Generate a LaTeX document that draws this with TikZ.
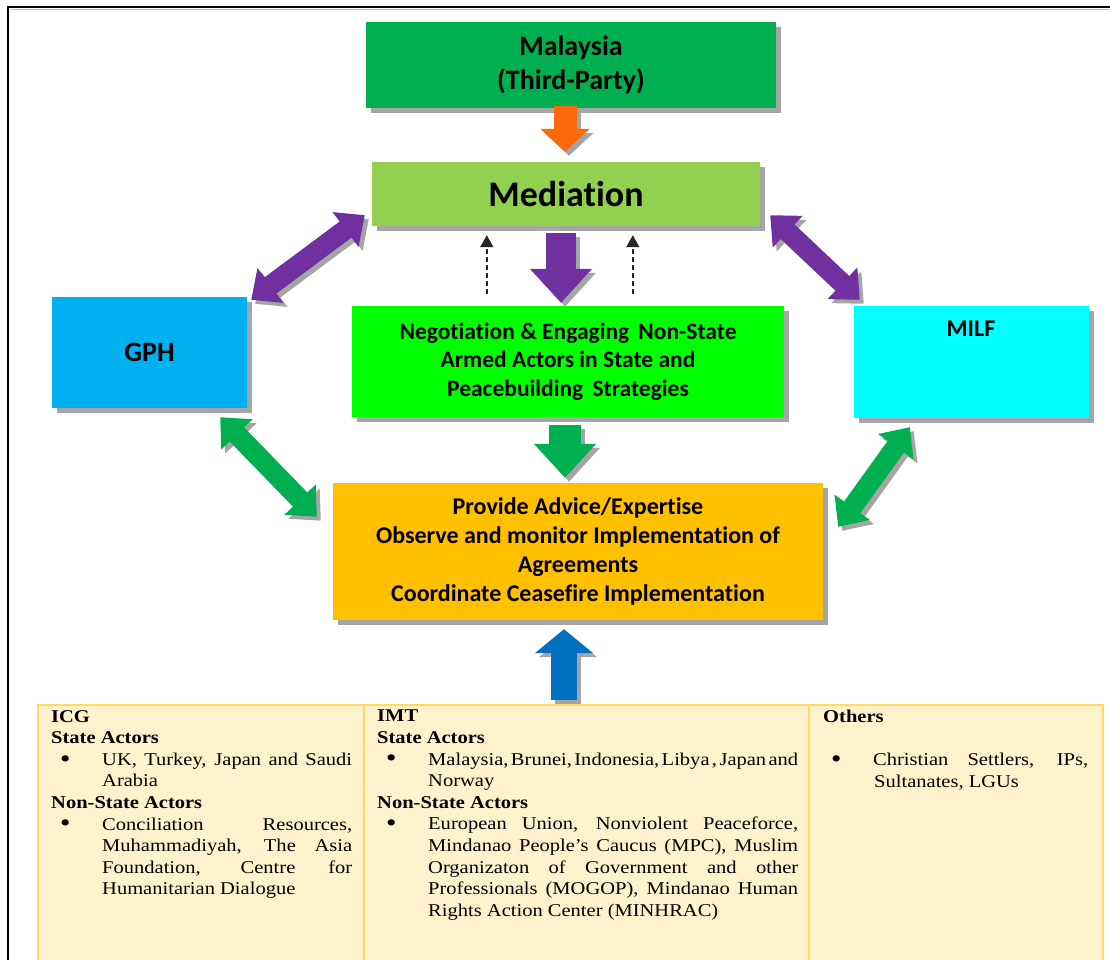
\documentclass[tikz,border=0pt]{standalone}
\usepackage{graphicx}
\usepackage{fontspec}
\setmainfont{Liberation Serif}
\newfontfamily\boxfont[Ligatures=NoCommon]{Carlito}
\newfontfamily\tabfont[FakeStretch=1.14]{Liberation Serif}
\usetikzlibrary{arrows.meta,calc,shadows}
\definecolor{malC}{RGB}{0,176,80}
\definecolor{medC}{RGB}{146,208,80}
\definecolor{negC}{RGB}{0,255,0}
\definecolor{gphC}{RGB}{0,176,240}
\definecolor{milfC}{RGB}{0,255,255}
\definecolor{provC}{RGB}{255,192,0}
\definecolor{orangeA}{RGB}{250,105,10}
\definecolor{purpleA}{RGB}{112,48,160}
\definecolor{greenA}{RGB}{0,176,80}
\definecolor{blueA}{RGB}{0,112,192}
\definecolor{tabF}{RGB}{255,242,204}
\definecolor{tabB}{RGB}{255,217,102}
\definecolor{shadowgray}{RGB}{165,165,165}
\newcommand{\bul}{\hspace*{9pt}\makebox[42pt][l]{\smash{\raisebox{-1.8pt}{\scalebox{1.45}{\textbullet}}}}}
\newcommand{\ind}{\hspace*{51pt}}
\begin{document}
\begin{tikzpicture}[x=1pt,y=-1pt,
  box/.style={inner sep=0pt, align=center, text=black,
    drop shadow={shadow xshift=5pt,shadow yshift=-5pt,fill=shadowgray,opacity=1}},
  shad/.style={draw=shadowgray, transform canvas={xshift=4pt,yshift=-4pt}},
  orangearr/.style={line width=23pt,-{Triangle[length=23pt,width=48pt]}},
  vertarr/.style={line width=30pt,-{Triangle[length=34pt,width=60pt]}},
  bluearr/.style={line width=26pt,-{Triangle[length=24pt,width=57pt]}},
  diagarr/.style={line width=20pt,{Triangle[length=24pt,width=42pt]}-{Triangle[length=24pt,width=42pt]}},
  dasharr/.style={draw={black!85}, line width=1.8pt, dash pattern=on 5pt off 3pt, -{Triangle[length=12pt,width=13pt]}},
  cell/.style={draw=tabB, line width=1.5pt, fill=tabF, inner sep=0pt, anchor=north west},
  tabtext/.style={anchor=north west, inner sep=0pt, align=left, font=\tabfont\fontsize{18}{21.6}\selectfont}
]
\useasboundingbox (0,0) rectangle (1110,960);
% outer frame
\draw[shadowgray!70, line width=1.5pt] (10,9.5) -- (1120,9.5);
\draw[line width=2.2pt] (8,975) -- (8,7) -- (1120,7);

% boxes
\node[box, fill=malC, minimum width=410pt, minimum height=86pt,
  font=\boxfont\bfseries\fontsize{28}{34}\selectfont] (mal) at (571,65) {Malaysia\\(Third-Party)};
\node[box, fill=medC, minimum width=388pt, minimum height=64pt,
  font=\boxfont\bfseries\fontsize{36}{40}\selectfont] (med) at (566,194) {Mediation};
\node[box, fill=negC, minimum width=432pt, minimum height=111pt,
  font=\boxfont\bfseries\fontsize{23.5}{28.5}\selectfont] (neg) at (568,361.5)
  {Negotiation \& Engaging\, Non-State\\Armed Actors in State and\\Peacebuilding\, Strategies};
\node[box, fill=gphC, minimum width=195pt, minimum height=111pt,
  font=\boxfont\bfseries\fontsize{28}{32}\selectfont] (gph) at (149.5,352.5) {\raisebox{-6pt}{GPH}};
\node[box, fill=milfC, minimum width=235pt, minimum height=112pt] (milf) at (971.5,362) {};
\node[inner sep=0pt, font=\boxfont\bfseries\fontsize{24}{28}\selectfont] (milft) at (971,329) {MILF};
\node[box, fill=provC, minimum width=490pt, minimum height=137pt,
  font=\boxfont\bfseries\fontsize{24}{29}\selectfont] (prov) at (578,551.5)
  {Provide Advice/Expertise\\Observe and monitor Implementation of\\Agreements\\Coordinate Ceasefire Implementation};

% table
\node[cell, minimum width=326pt, minimum height=290pt] (c1) at (37,704) {};
\node[cell, minimum width=445pt, minimum height=290pt] (c2) at (363,704) {};
\node[cell, minimum width=294pt, minimum height=290pt] (c3) at (808,704) {};

\node[tabtext] (t1) at (51,710) {%
\textbf{ICG}\\
\textbf{State Actors}\\
\bul\makebox[250pt][s]{UK, Turkey, Japan and Saudi}\\
\ind Arabia\\
\textbf{Non-State Actors}\\
\bul\makebox[250pt][s]{Conciliation Resources,}\\
\ind\makebox[250pt][s]{Muhammadiyah, The Asia}\\
\ind\makebox[250pt][s]{Foundation, Centre for}\\
\ind Humanitarian Dialogue};

\node[tabtext] (t2) at (377,710) {%
\textbf{IMT}\\
\textbf{State Actors}\\
\bul{\spaceskip=2pt plus 20pt minus 1pt\makebox[370pt][s]{Malaysia, Brunei, Indonesia, Libya , Japan and}}\\
\ind Norway\\
\textbf{Non-State Actors}\\
\bul\makebox[370pt][s]{European Union, Nonviolent Peaceforce,}\\
\ind\makebox[370pt][s]{Mindanao People’s Caucus (MPC), Muslim}\\
\ind\makebox[370pt][s]{Organizaton of Government and other}\\
\ind\makebox[370pt][s]{Professionals (MOGOP), Mindanao Human}\\
\ind Rights Action Center (MINHRAC)};

\node[tabtext] (t3) at (823,710) {%
\textbf{Others}\\
\mbox{}\\
\hspace*{-1pt}\bul\makebox[215pt][s]{Christian Settlers, IPs,}\\
\ind Sultanates, LGUs};

% orange arrow
\draw[orangearr, shad] ($(mal.south)+(-6,-2)$) -- ($(med.north)+(-1,-10)$);
\draw[orangearr, draw=orangeA] ($(mal.south)+(-6,-2)$) -- ($(med.north)+(-1,-10)$);
% purple down
\draw[vertarr, shad] ($(med.south)+(-5,7)$) -- ($(neg.north)+(-7,-3)$);
\draw[vertarr, draw=purpleA] ($(med.south)+(-5,7)$) -- ($(neg.north)+(-7,-3)$);
% green down
\draw[vertarr, shad, line width=32pt] ($(neg.south)+(-3,8)$) -- ($(prov.north)+(-13,-5)$);
\draw[vertarr, draw=greenA, line width=32pt] ($(neg.south)+(-3,8)$) -- ($(prov.north)+(-13,-5)$);
% blue up
\draw[bluearr, shad] ($(c2.north west)+(201,-4)$) -- ($(prov.south)+(-14,9)$);
\draw[bluearr, draw=blueA] ($(c2.north west)+(201,-4)$) -- ($(prov.south)+(-14,9)$);
% dashed arrows
\draw[dasharr] ($(neg.north west)+(135,-12)$) -- ($(med.south west)+(115,9)$);
\draw[dasharr] ($(neg.north west)+(281,-12)$) -- ($(med.south west)+(261,9)$);
% diagonal purple
\draw[diagarr, shad] ($(gph.north east)+(4,3)$) -- ($(med.south west)+(-7,-11)$);
\draw[diagarr, draw=purpleA] ($(gph.north east)+(4,3)$) -- ($(med.south west)+(-7,-11)$);
\draw[diagarr, shad] ($(med.south east)+(10,-11)$) -- ($(milf.north west)+(6,-6)$);
\draw[diagarr, draw=purpleA] ($(med.south east)+(10,-11)$) -- ($(milf.north west)+(6,-6)$);
% diagonal green
\draw[diagarr, shad] ($(gph.south east)+(-27,9)$) -- ($(prov.north west)+(-16,34)$);
\draw[diagarr, draw=greenA] ($(gph.south east)+(-27,9)$) -- ($(prov.north west)+(-16,34)$);
\draw[diagarr, shad] ($(milf.south west)+(56,9)$) -- ($(prov.north east)+(15,44)$);
\draw[diagarr, draw=greenA] ($(milf.south west)+(56,9)$) -- ($(prov.north east)+(15,44)$);
\end{tikzpicture}
\end{document}
